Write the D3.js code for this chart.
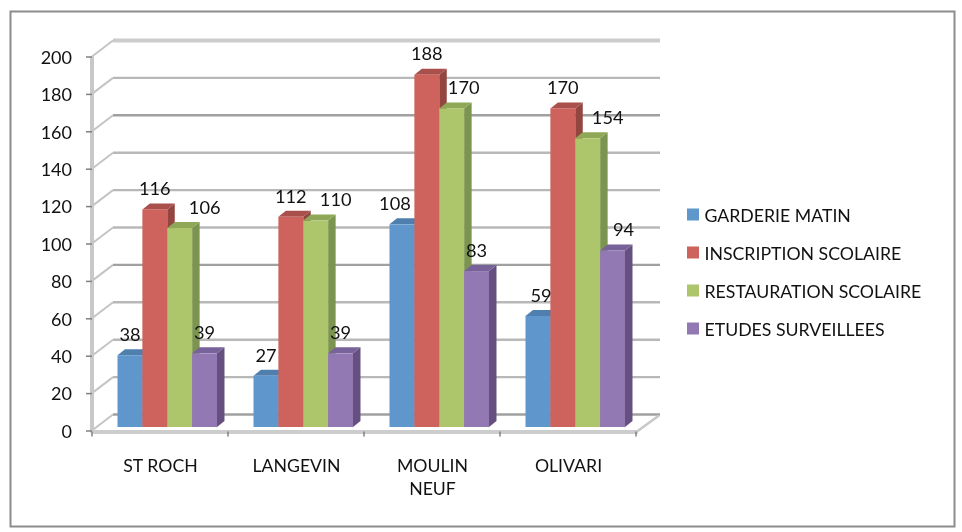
<!DOCTYPE html>
<html><head><meta charset="utf-8">
<script src="https://cdnjs.cloudflare.com/ajax/libs/d3/7.8.5/d3.min.js"></script>
<style>html,body{margin:0;background:#fff}svg{display:block;filter:blur(0.35px)}text{font-family:Lato,"Open Sans",sans-serif;fill:#111}</style>
</head><body><svg id="c" width="962" height="532"></svg>
<script>
const categories=["ST ROCH","LANGEVIN","MOULIN NEUF","OLIVARI"];
const seriesNames=["GARDERIE MATIN","INSCRIPTION SCOLAIRE","RESTAURATION SCOLAIRE","ETUDES SURVEILLEES"];
const garderie=[38,27,108,59];
const inscription=[116,112,188,170];
const restauration=[106,110,170,154];
const etudes=[39,39,83,94];
const yTicks=[0,20,40,60,80,100,120,140,160,180,200];
const seriesValues=[garderie,inscription,restauration,etudes];

const front="#5f97cc,#ce625c,#adc66c,#9379b3".split(",");
const side="#46729c,#93453f,#7b9450,#65507f".split(",");
const top_="#4f7fae,#a9504c,#8fa858,#78629a".split(",");
// data-label nudges [series][category], as placed in the original chart
const nudge=[[[0,0],[0,0],[-7,0],[3,0]],[[0,0],[0,0],[0,0],[0,0]],[[25,0],[20,0],[12,0],[20,0]],[[0,0],[0,0],[0,0],[11,0]]];

const svg=d3.select("#c");
const x0=92,x1=636,dx=21,dy=16;
const y=d3.scaleLinear().domain([0,200]).range([430.5,56.5]);
const x=d3.scaleBand().domain(categories).range([x0,x1]);
const inner=d3.scaleBand().domain(d3.range(4)).range([25.5,125]);
const bw=inner.bandwidth(), ddx=7.5, ddy=6, fx=0, fy=-3.5;

svg.append("rect").attr("x",10.5).attr("y",11.5).attr("width",944).attr("height",515).attr("fill","#fff").attr("stroke","#8c8c8c").attr("stroke-width",2);

// back wall gridlines
const grid=svg.append("g");
yTicks.forEach(t=>{
  const yy=y(t);
  grid.append("line").attr("x1",x0).attr("y1",yy).attr("x2",x0+dx).attr("y2",yy-dy).attr("stroke","#c4c4c4").attr("stroke-width",2);
  grid.append("line").attr("x1",x0+dx).attr("y1",yy-dy).attr("x2",x0+dx+547).attr("y2",yy-dy)
    .attr("stroke",t===200?"#cccccc":t===160||t===0||t===80?"#a0a0a0":"#b8b8b8").attr("stroke-width",t===200?4:2.4);
});
// floor
svg.append("path").attr("d",d3.line()([[x1+1,y(0)+1],[x1+dx+2,y(0)-dy+1]])).attr("stroke","#c8c8c8").attr("stroke-width",2.5).attr("fill","none");

// y axis
const ya=svg.append("g").attr("transform",`translate(${x0},1)`).call(d3.axisLeft(y).tickValues(yTicks).tickSize(6).tickPadding(14));
ya.select(".domain").attr("stroke","#c8c8c8").attr("stroke-width",4).attr("d",`M0,${y(200)-1}V${y(0)+1}`);
ya.selectAll(".tick line").attr("stroke","#808080").attr("stroke-width",1.5).attr("transform","translate(0,-1)");
ya.selectAll(".tick text").style("font-size","18px").style("font-family","Lato").attr("fill","#111");

// x axis
const xa=svg.append("g").attr("transform",`translate(0,${y(0)+1.5})`).call(d3.axisBottom(x).tickValues([]).tickSize(0));
xa.select(".domain").attr("stroke","#cdcdcd").attr("stroke-width",4).attr("d",`M${x0},0H${x1+2}`);
[0,1,2,3,4].forEach(i=>svg.append("line").attr("x1",x0+i*x.bandwidth()).attr("x2",x0+i*x.bandwidth()).attr("y1",y(0)+1).attr("y2",y(0)+6).attr("stroke","#808080").attr("stroke-width",1.5));

// bars
const bars=svg.append("g");
categories.forEach((c,ci)=>{
  seriesValues.forEach((vals,si)=>{
    const l=x(c)+inner(si)+fx, r=l+bw, t=y(vals[ci])+fy-0.7, b=y(0)+fy;
    const g=bars.append("g");
    g.append("path").attr("fill",side[si]).attr("d",`M${r},${t}L${r+ddx},${t-ddy}V${b-ddy}L${r},${b}Z`);
    g.append("path").attr("fill",top_[si]).attr("d",`M${l},${t}L${l+ddx},${t-ddy}H${r+ddx}L${r},${t}Z`);
    g.append("rect").attr("x",l).attr("y",t).attr("width",bw).attr("height",b-t).attr("fill",front[si]);
  });
});
// data labels
categories.forEach((c,ci)=>{
  seriesValues.forEach((vals,si)=>{
    svg.append("text").attr("x",x(c)+inner(si)+bw/2+nudge[si][ci][0]).attr("y",y(vals[ci])-18.5)
      .attr("text-anchor","middle").style("font-size","18.2px").text(vals[ci]);
  });
});
// category labels
categories.forEach(c=>{
  const cx=x(c)+x.bandwidth()/2+0.5;
  const lines=c==="MOULIN NEUF"?["MOULIN","NEUF"]:[c];
  lines.forEach((s,i)=>svg.append("text").attr("x",cx).attr("y",472+i*23).attr("text-anchor","middle").style("font-size","17.7px").text(s));
});
// legend
seriesNames.forEach((s,i)=>{
  const ly=d3.scaleLinear().domain([0,3]).range([215,329])(i);
  svg.append("rect").attr("x",687).attr("y",ly-6.5).attr("width",12).attr("height",12).attr("fill",front[i]);
  svg.append("text").attr("x",704.5).attr("y",ly+6.5).style("font-size","17.7px").text(s);
});
</script></body></html>
